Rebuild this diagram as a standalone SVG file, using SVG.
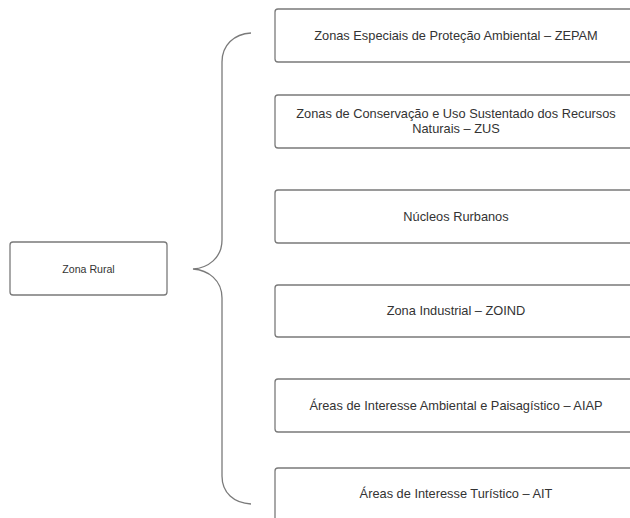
<svg xmlns="http://www.w3.org/2000/svg" width="630" height="518" viewBox="0 0 630 518">
<style>
.box{fill:#fff;stroke:#7a7a7a;stroke-width:1.3}
.t{font-family:"Liberation Sans",Arial,sans-serif;font-size:12.8px;fill:#333;text-anchor:middle;dominant-baseline:central}
.ts{font-family:"Liberation Sans",Arial,sans-serif;font-size:10.6px;fill:#333;text-anchor:middle;dominant-baseline:central}
.br{fill:none;stroke:#7a7a7a;stroke-width:1.3}
</style>
<rect width="630" height="518" fill="#fff"/>
<g id="connectors">
<path class="br" d="M251,33 C234,34 222,45 222,62 L222,240 C222,258 208,268 193,269 C208,270 222,280 222,298 L222,476 C222,493 234,503 251,504"/>
</g>
<g id="zona-rural"><rect class="box" x="10" y="242" width="157" height="53" rx="3"/><text class="ts" x="88.5" y="268.5">Zona Rural</text></g>
<g id="zepam"><rect class="box" x="275" y="9" width="365" height="53" rx="3"/><text class="t" x="456" y="35.5">Zonas Especiais de Proteção Ambiental – ZEPAM</text></g>
<g id="zus"><rect class="box" x="275" y="95" width="365" height="53" rx="3"/><text class="t" x="456" y="113">Zonas de Conservação e Uso Sustentado dos Recursos</text><text class="t" x="456" y="128.5">Naturais – ZUS</text></g>
<g id="nucleos"><rect class="box" x="275" y="190" width="365" height="53" rx="3"/><text class="t" x="456" y="216">Núcleos Rurbanos</text></g>
<g id="zoind"><rect class="box" x="275" y="285" width="365" height="52" rx="3"/><text class="t" x="456" y="310.5">Zona Industrial – ZOIND</text></g>
<g id="aiap"><rect class="box" x="275" y="379" width="365" height="53" rx="3"/><text class="t" x="456" y="405">Áreas de Interesse Ambiental e Paisagístico – AIAP</text></g>
<g id="ait"><rect class="box" x="275" y="468" width="365" height="60" rx="3"/><text class="t" x="456" y="493.5">Áreas de Interesse Turístico – AIT</text></g>
</svg>
